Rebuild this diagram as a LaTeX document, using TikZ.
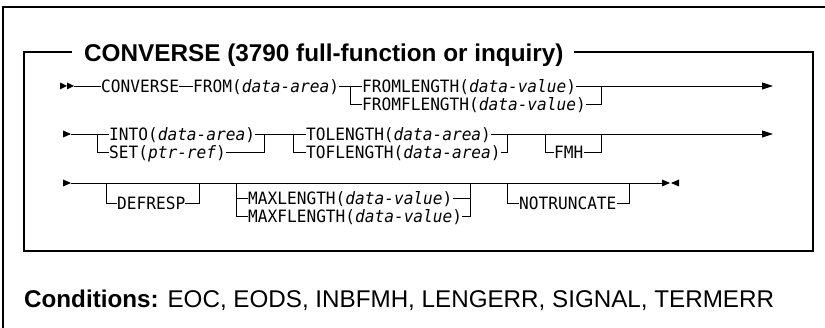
\documentclass[tikz,border=0pt]{standalone}
\usepackage{fontspec}
\newfontfamily\diagmono{DejaVu Sans Mono}[ItalicFont={DejaVu Sans Mono Oblique}, FakeStretch=0.95]
\newfontfamily\diagsans{Liberation Sans}
\usetikzlibrary{arrows.meta}
\tikzset{
  kw/.style={inner sep=0pt, text height=12.4pt, text depth=0pt, anchor=west,
    font=\diagmono\fontsize{17}{20}\selectfont},
  rail/.style={line width=0.9pt},
  frame/.style={line width=1.3pt},
  endarrow/.style={-{Triangle[length=11pt,width=7pt]}},
}
\begin{document}
\begin{tikzpicture}[x=1pt,y=-1pt]
\useasboundingbox (0,0) rectangle (825,328);
% outer frame
\coordinate (ob) at (3,328);
\coordinate (otl) at (3,7);
\coordinate (otr) at (825,7);
\draw[frame] (ob) -- (otl) -- (otr);
% inner box with title
\node[font=\diagsans\bfseries\fontsize{24.3}{28}\selectfont, anchor=base west, inner sep=0pt] (title) at (84,62) {CONVERSE (3790 full-function or inquiry)};
\coordinate (ibtl) at (24,52);
\coordinate (ibbl) at (24,251);
\coordinate (ibbr) at (813,251);
\coordinate (ibtr) at (813,52);
\coordinate (gapl) at ([xshift=-12pt]title.west |- ibtl);
\coordinate (gapr) at ([xshift=10pt]title.east |- ibtr);
\draw[frame] (gapl) -- (ibtl) -- (ibbl) -- (ibbr) -- (ibtr) -- (gapr);

% Row 1
\fill (60,82.5) -- (67,86) -- (60,89.5) -- cycle;
\fill (67,82.5) -- (74,86) -- (67,89.5) -- cycle;
\coordinate (r1s) at (74,86);
\node[kw] (conv) at (101,86) {CONVERSE};
\node[kw] (from) at (193,86) {FROM(\textit{data-area})};
\coordinate (r1b) at (350,86);
\node[kw] (flen) at (362,86) {FROMLENGTH(\textit{data-value})};
\node[kw] (fflen) at (362,104) {FROMFLENGTH(\textit{data-value})};
\coordinate (r1m) at (601,86);
\coordinate (r1e) at (773,86);
\draw[rail] (r1s) -- (conv.west);
\draw[rail] (conv.east) -- (from.west);
\draw[rail] (from.east) -- (flen.west);
\draw[rail] (r1b) |- (fflen.west);
\draw[rail] (fflen.east) -| (r1m);
\draw[rail, endarrow] (flen.east) -- (r1e);

% Row 2
\fill (63,130.5) -- (71,134) -- (63,137.5) -- cycle;
\coordinate (r2s) at (71,134);
\coordinate (r2b1) at (97,134);
\node[kw] (into) at (109,134) {INTO(\textit{data-area})};
\node[kw] (set) at (109,152) {SET(\textit{ptr-ref})};
\coordinate (r2m1) at (264,134);
\coordinate (r2b2) at (293,134);
\node[kw] (tolen) at (306,134) {TOLENGTH(\textit{data-area})};
\node[kw] (toflen) at (306,152) {TOFLENGTH(\textit{data-area})};
\coordinate (r2m2) at (507,134);
\coordinate (r2f1) at (545,134);
\node[kw] (fmh) at (554,152) {FMH};
\coordinate (r2f2) at (601,134);
\coordinate (r2e) at (773,134);
\draw[rail] (r2s) -- (into.west);
\draw[rail] (r2b1) |- (set.west);
\draw[rail] (set.east) -| (r2m1);
\draw[rail] (into.east) -- (tolen.west);
\draw[rail] (r2b2) |- (toflen.west);
\draw[rail] (toflen.east) -| (r2m2);
\draw[rail, endarrow] (tolen.east) -- (r2e);
\draw[rail] (r2f1) |- (fmh.west);
\draw[rail] (fmh.east) -| (r2f2);

% Row 3
\fill (63,179.5) -- (71,183) -- (63,186.5) -- cycle;
\coordinate (r3s) at (71,183);
\coordinate (r3e) at (662,183);
\draw[rail] (r3s) -- (r3e);
\fill (662,179.5) -- (670,183) -- (662,186.5) -- cycle;
\fill (679,179.5) -- (671,183) -- (679,186.5) -- cycle;
\coordinate (d1) at (106,183);
\node[kw] (defr) at (117,203) {DEFRESP};
\coordinate (d2) at (199,183);
\draw[rail] (d1) |- (defr.west);
\draw[rail] (defr.east) -| (d2);
\coordinate (mx1) at (236,183);
\node[kw] (maxl) at (248,198) {MAXLENGTH(\textit{data-value})};
\node[kw] (maxfl) at (248,216) {MAXFLENGTH(\textit{data-value})};
\coordinate (mx2) at (470,183);
\draw[rail] (mx1) |- (maxl.west);
\draw[rail] (mx1) |- (maxfl.west);
\draw[rail] (maxl.east) -| (mx2);
\draw[rail] (maxfl.east) -| (mx2);
\coordinate (n1) at (507,183);
\node[kw] (notr) at (519,203) {NOTRUNCATE};
\coordinate (n2) at (629,183);
\draw[rail] (n1) |- (notr.west);
\draw[rail] (notr.east) -| (n2);

% Conditions
\node[anchor=base west, inner sep=0pt, font=\diagsans\fontsize{24.2}{28}\selectfont] (cond) at (24,308) {\textbf{Conditions:} EOC, EODS, INBFMH, LENGERR, SIGNAL, TERMERR};
\end{tikzpicture}
\end{document}
